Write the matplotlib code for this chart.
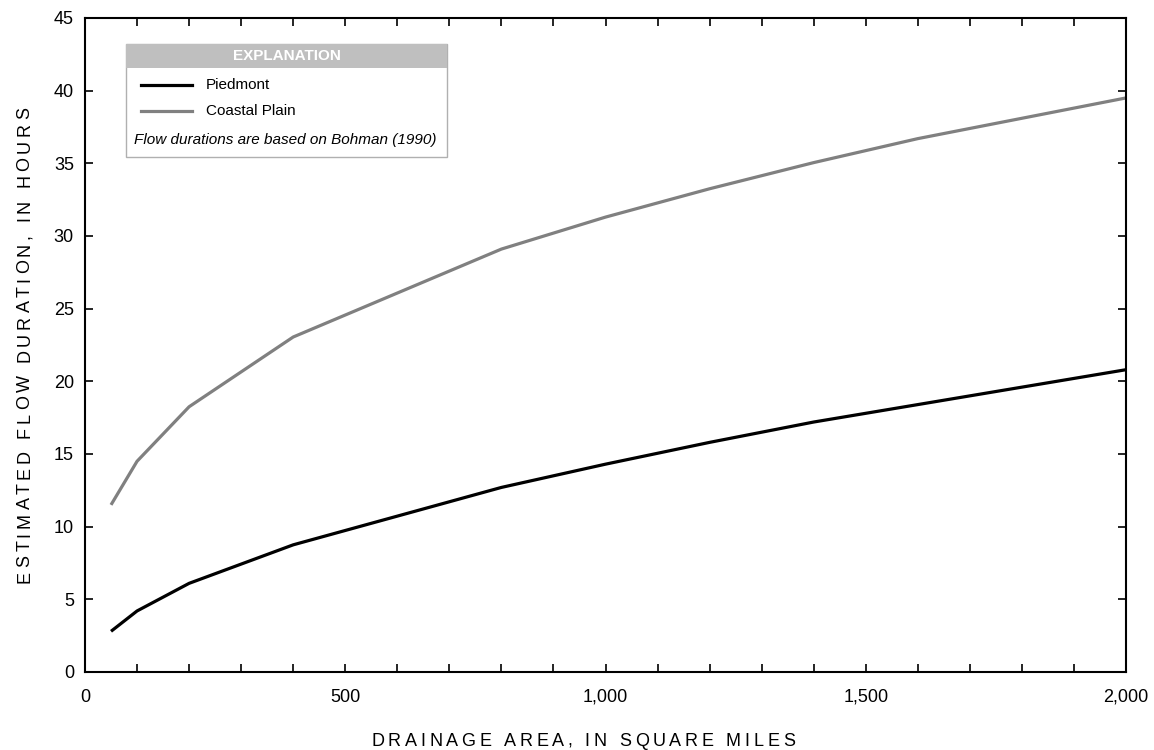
import matplotlib
matplotlib.use('Agg')
import matplotlib.pyplot as plt
from matplotlib.ticker import MultipleLocator, FuncFormatter
from matplotlib.patches import Rectangle
from matplotlib.lines import Line2D

plt.rcParams['font.family'] = ['Liberation Sans', 'DejaVu Sans']

# drainage area (sq mi) and flow duration (hours)
area = [50, 100, 200, 400, 800, 1000, 1200, 1400, 1600, 2000]
piedmont = [2.8, 4.2, 6.1, 8.75, 12.7, 14.3, 15.8, 17.2, 18.4, 20.8]
coastal = [11.5, 14.5, 18.25, 23.05, 29.1, 31.3, 33.25, 35.05, 36.7, 39.5]

W, H = 1154, 750
fig = plt.figure(figsize=(W / 100, H / 100), dpi=100)
ax = fig.add_axes([85 / W, 1 - 672 / H, (1126 - 85) / W, (672 - 18) / H])

ax.plot(area, piedmont, color='black', lw=2.3, solid_capstyle='butt')
ax.plot(area, coastal, color='#808080', lw=2.3, solid_capstyle='butt')

ax.set_xlim(0, 2000)
ax.set_ylim(0, 45)
ax.xaxis.set_major_locator(MultipleLocator(500))
ax.xaxis.set_minor_locator(MultipleLocator(100))
ax.yaxis.set_major_locator(MultipleLocator(5))
ax.xaxis.set_major_formatter(FuncFormatter(lambda v, p: f'{v:,.0f}'))
ax.tick_params(which='both', direction='in', top=True, right=True,
               labelsize=13, width=1.2, length=6, pad=12)
ax.tick_params(axis='y', pad=8)
for s in ax.spines.values():
    s.set_linewidth(1.5)


def px(x, y):
    return x / W, 1 - y / H


def tracked(s, x, y, size, track, rotation=0):
    # draw a string one letter at a time with extra spacing, centred on x,y (pixels)
    r = fig.canvas.get_renderer()
    widths = []
    for ch in s:
        t = fig.text(0, 0, ch.replace(' ', '\u00a0'), fontsize=size)
        widths.append(t.get_window_extent(r).width)
        t.remove()
    total = sum(widths) + track * (len(s) - 1)
    pos = -total / 2
    for ch, w in zip(s, widths):
        c = pos + w / 2
        if rotation == 0:
            fig.text(*px(x + c, y), ch, fontsize=size, ha='center', va='center')
        else:
            fig.text(*px(x, y - c), ch, fontsize=size, ha='center',
                     va='center', rotation=90)
        pos += w + track


tracked('DRAINAGE AREA, IN SQUARE MILES', 583, 741, 13, 3.7)
tracked('ESTIMATED FLOW DURATION, IN HOURS', 25, 345, 13, 3.7, rotation=90)

# explanation box
bx0, bx1, by0, by1 = 126, 447, 44, 157
fig.patches.append(Rectangle(px(bx0, by1), (bx1 - bx0) / W, (by1 - by0) / H,
                             transform=fig.transFigure, facecolor='white',
                             edgecolor='#b0b0b0', lw=1.0, zorder=5))
fig.patches.append(Rectangle(px(bx0, 68), (bx1 - bx0) / W, 24 / H,
                             transform=fig.transFigure, facecolor='#bfbfbf',
                             edgecolor='none', zorder=6))
fig.text(*px((bx0 + bx1) / 2, 56), 'EXPLANATION', fontsize=11,
         fontweight='bold', color='white', ha='center', va='center', zorder=7)
for yy, col, lab in [(85, 'black', 'Piedmont'), (111, '#808080', 'Coastal Plain')]:
    fig.lines.append(Line2D([141 / W, 192 / W], [1 - yy / H] * 2,
                            transform=fig.transFigure, color=col, lw=2.3,
                            zorder=7))
    fig.text(*px(206, yy), lab, fontsize=11, ha='left', va='center', zorder=7)
fig.text(*px(134, 140), 'Flow durations are based on Bohman (1990)',
         fontsize=11, style='italic', ha='left', va='center', zorder=7)

fig.savefig('out.png', dpi=100)
